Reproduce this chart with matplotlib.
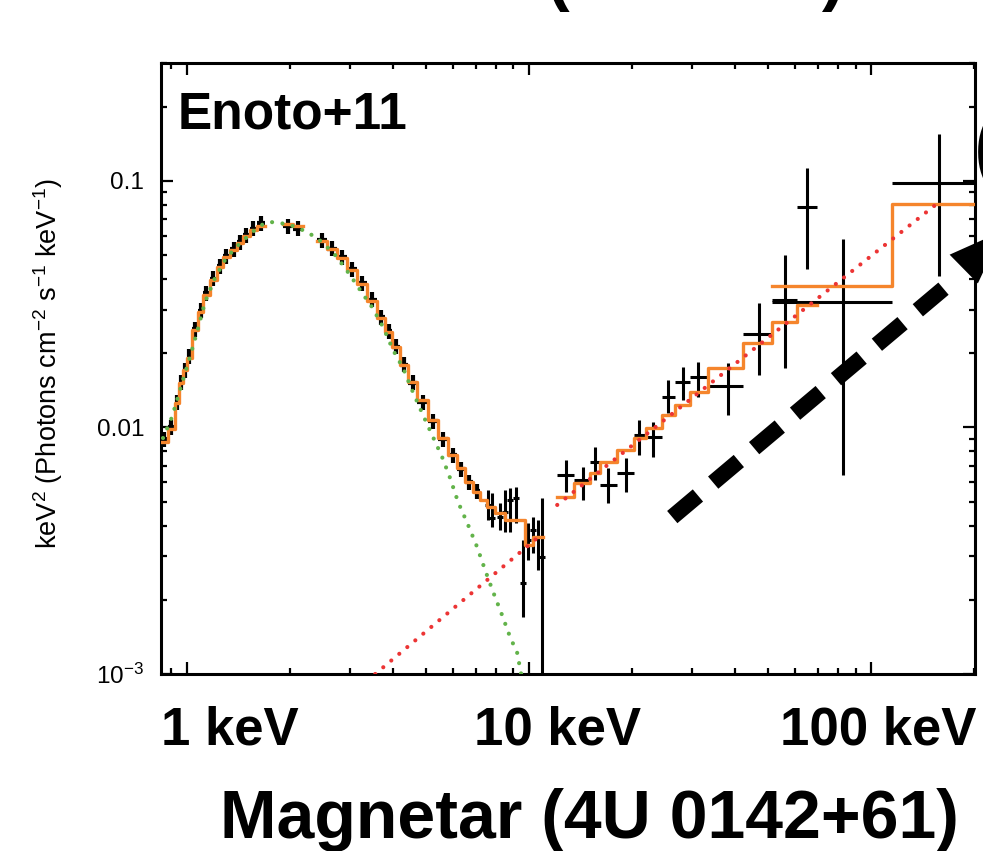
import numpy as np
import matplotlib
matplotlib.use('Agg')
import matplotlib.pyplot as plt
from matplotlib.patches import FancyArrowPatch
from matplotlib.ticker import NullFormatter, FixedLocator

nan = np.nan

# Suzaku XIS : bin edges (keV), model and data (keV^2 Photons cm^-2 s^-1 keV^-1)
xis_edges = [0.834, 0.880, 0.922, 0.948, 0.973, 1.000, 1.034, 1.077, 1.114, 1.167,
             1.224, 1.274, 1.336, 1.400, 1.458, 1.528, 1.602, 1.690, 1.909, 2.041,
             2.184, 2.400, 2.567, 2.746, 2.937, 3.142, 3.360, 3.594, 3.793, 3.975,
             4.196, 4.429, 4.704, 5.066, 5.418, 5.797, 6.158, 6.500, 6.861, 7.192,
             7.540, 7.957, 8.510, 9.734, 10.27, 10.99]
xis_model = [0.0087, 0.0099, 0.0126, 0.0151, 0.0171, 0.0191, 0.0248, 0.0294, 0.0344, 0.0396,
             0.0447, 0.0491, 0.0524, 0.0560, 0.0597, 0.0631, 0.0656, nan, 0.0668, 0.0656,
             nan, 0.0570, 0.0528, 0.0486, 0.0435, 0.0382, 0.0326, 0.0278, 0.0244, 0.0212,
             0.0179, 0.0153, 0.0129, 0.0107, 0.00906, 0.00773, 0.00684, 0.00601, 0.00547, 0.00508,
             0.00475, 0.00450, 0.00421, 0.00334, 0.00359]
xis_data = [0.0090, 0.0100, 0.0126, 0.0152, 0.0170, 0.0195, 0.0250, 0.0298, 0.0350, 0.0402,
            0.0452, 0.0496, 0.0530, 0.0566, 0.0604, 0.0640, 0.0672, nan, 0.0655, 0.0640,
            nan, 0.0575, 0.0532, 0.0490, 0.0440, 0.0385, 0.0330, 0.0280, 0.0246, 0.0213,
            0.0180, 0.0152, 0.0127, 0.0106, 0.0090, 0.0077, 0.0068, 0.0060, 0.0055]
xis_frac_err = 0.07

# XIS last points (7.5 - 11 keV)
xis_hi_e = [7.59, 7.80, 8.23, 8.51, 8.80, 9.16, 9.61, 9.93, 10.27, 10.62, 10.91]
xis_hi_f = [0.00485, 0.00429, 0.00433, 0.00454, 0.00508, 0.00517, 0.00234, 0.00349, 0.00384, 0.00359, 0.00298]
xis_hi_up = [0.00557, 0.00542, 0.00494, 0.00557, 0.00568, 0.00573, 0.00349, 0.00409, 0.00433, 0.00421, 0.00517]
xis_hi_dn = [0.00421, 0.00394, 0.00384, 0.00377, 0.00377, 0.00409, 0.00170, 0.00290, 0.00310, 0.00264, 0.00090]

# HXD-PIN
pin_edges = [12.08, 13.54, 15.08, 16.13, 18.08, 20.28, 21.99, 24.48, 26.73, 29.57,
             33.38, 42.24, 51.35, 60.76, 69.54]
pin_e = [12.83, 14.38, 15.60, 17.02, 19.21, 20.97, 23.05, 25.49, 28.20, 31.20,
         38.18, 47.05, 56.05, 65.02]
pin_f = [0.00641, 0.00612, 0.00724, 0.00584, 0.00653, 0.00932, 0.00914, 0.01328, 0.01528, 0.0160,
         0.01472, 0.02392, 0.03285, 0.0783]
pin_up = [0.00738, 0.00690, 0.00833, 0.00684, 0.00751, 0.01071, 0.01052, 0.01556, 0.01758, 0.01842,
          0.0182, 0.0319, 0.05002, 0.1127]
pin_dn = [0.00547, 0.00508, 0.00612, 0.00494, 0.00547, 0.00773, 0.00759, 0.01144, 0.0129, 0.01328,
          0.01123, 0.01631, 0.01741, 0.04387]
pin_model = [0.00522, 0.00595, 0.00653, 0.00724, 0.0081, 0.00906, 0.00994, 0.01123, 0.01232, 0.01392,
             0.01741, 0.0220, 0.02676, 0.03136]

# HXD-GSO
gso_edges = [51.35, 115.2, 250.0]
gso_e = [82.8, 158.1]
gso_f = [0.03225, 0.0979]
gso_up = [0.05808, 0.1548]
gso_dn = [0.00641, 0.0411]
gso_model = [0.03745, 0.0805]

# soft component (green dotted)
soft_e = [0.851, 0.904, 0.941, 0.973, 1.020, 1.070, 1.129, 1.207, 1.291, 1.381,
          1.497, 1.602, 1.690, 1.784, 1.960, 2.097, 2.243, 2.400, 2.532, 2.746,
          2.997, 3.250, 3.475, 3.742, 4.003, 4.281, 4.548, 4.866, 5.204, 5.567,
          5.875, 6.200, 6.632, 7.047, 7.435, 7.850, 8.339, 8.800, 9.224, 9.476]
soft_f = [0.00906, 0.01102, 0.01328, 0.01556, 0.0193, 0.02437, 0.03225, 0.04035, 0.04774, 0.05339,
          0.0592, 0.0644, 0.0675, 0.0681, 0.0668, 0.0648, 0.0620, 0.0586, 0.0550, 0.0491,
          0.0415, 0.0351, 0.03078, 0.02553, 0.0206, 0.01741, 0.01418, 0.01144, 0.00932, 0.00759,
          0.00623, 0.00498, 0.00402, 0.00327, 0.00264, 0.00215, 0.00173, 0.00141, 0.00122, 0.00100]

# hard power-law component (red dotted), XIS and HXD normalisations
hard_xis_e = [3.55, 10.91]
hard_xis_f = [0.00100, 0.00370]
hard_hxd_e = [12.08, 155.0]
hard_hxd_f = [0.00485, 0.0805]

# dashed arrow (keV, flux)
arrow_start = (26.2, 4.33e-3)
arrow_dash_end = (164.6, 0.0371)
arrow_tip = (241.6, 0.0626)

energy_labels = ['1 keV', '10 keV', '100 keV']
energy_label_pos = [1.336, 12.13, 104.5]

ytick_vals = [1e-3, 0.01, 0.1]
ytick_labels = [r'$10^{-3}$', '0.01', '0.1']

orange = '#f5852c'
green = '#62b34a'
red = '#ec3434'

plt.rcParams['font.family'] = ['Liberation Sans', 'DejaVu Sans']
plt.rcParams['mathtext.fontset'] = 'custom'
plt.rcParams['mathtext.rm'] = 'Liberation Sans'
plt.rcParams['mathtext.it'] = 'Liberation Sans:italic'
plt.rcParams['mathtext.bf'] = 'Liberation Sans:bold'


def draw_step(ax, edges, vals, **kw):
    v = np.asarray(vals, dtype=float)
    ax.step(edges, np.append(v, v[-1]), where='post', **kw)


fig = plt.figure(figsize=(9.83, 8.51), dpi=100)
ax = fig.add_axes([0.1635, 0.2080, 0.8284, 0.7176])
ax.set_xscale('log')
ax.set_yscale('log')
ax.set_xlim(0.838, 201)
ax.set_ylim(1e-3, 0.30)

# XIS data
edges = np.array(xis_edges)
lo = edges[:len(xis_data)]
hi = edges[1:len(xis_data) + 1]
fd = np.array(xis_data)
ok = ~np.isnan(fd)
xc = np.sqrt(lo * hi)[ok]
fd = fd[ok]
ax.errorbar(xc, fd, xerr=[xc - lo[ok], hi[ok] - xc],
            yerr=[fd * xis_frac_err, fd * xis_frac_err],
            fmt='none', ecolor='k', elinewidth=3.0, capsize=0, zorder=2)

e = np.array(xis_hi_e)
f = np.array(xis_hi_f)
ax.errorbar(e, f, xerr=[e * (1 - 10**-0.009), e * (10**0.009 - 1)],
            yerr=[f - np.array(xis_hi_dn), np.array(xis_hi_up) - f],
            fmt='none', ecolor='k', elinewidth=2.2, capsize=0, zorder=2)

# HXD data
pe = np.array(pin_e)
pf = np.array(pin_f)
pedges = np.array(pin_edges)
ax.errorbar(pe, pf, xerr=[pe - pedges[:-1], pedges[1:] - pe],
            yerr=[pf - np.array(pin_dn), np.array(pin_up) - pf],
            fmt='none', ecolor='k', elinewidth=2.2, capsize=0, zorder=2)
ge = np.array(gso_e)
gf = np.array(gso_f)
gedges = np.array(gso_edges)
ax.errorbar(ge, gf, xerr=[ge - gedges[:-1], gedges[1:] - ge],
            yerr=[gf - np.array(gso_dn), np.array(gso_up) - gf],
            fmt='none', ecolor='k', elinewidth=2.2, capsize=0, zorder=2)

# models
draw_step(ax, xis_edges, xis_model, color=orange, lw=2.4, zorder=3)
draw_step(ax, pin_edges, pin_model, color=orange, lw=2.4, zorder=3)
draw_step(ax, gso_edges, gso_model, color=orange, lw=2.4, zorder=3)

dots = dict(lw=3.0, ls=(0, (0.01, 2.5)), dash_capstyle='round', zorder=4)
ax.plot(soft_e, soft_f, color=green, **dots)
ax.plot(hard_xis_e, hard_xis_f, color=red, **dots)
ax.plot(hard_hxd_e, hard_hxd_f, color=red, **dots)

# dashed arrow
ax.plot([arrow_start[0], arrow_dash_end[0]], [arrow_start[1], arrow_dash_end[1]],
        color='k', lw=11.5, ls=(0, (2.1, 1.25)), dash_capstyle='butt',
        clip_on=False, zorder=5)
head = FancyArrowPatch(posA=arrow_dash_end, posB=arrow_tip, transform=ax.transData,
                       arrowstyle='simple,head_length=3.9,head_width=2.9,tail_width=0.0',
                       mutation_scale=10, lw=0, facecolor='k', edgecolor='none',
                       shrinkA=0, shrinkB=0, clip_on=False, zorder=5)
ax.add_patch(head)

# axes styling
for s in ax.spines.values():
    s.set_linewidth(2.2)
ax.tick_params(which='both', direction='in', top=True, right=True, width=1.6)
ax.tick_params(which='major', length=8.5)
ax.tick_params(which='minor', length=4.3)
ax.tick_params(axis='x', which='both', labelbottom=False)
ax.yaxis.set_major_locator(FixedLocator(ytick_vals))
ax.set_yticklabels(ytick_labels)
ax.yaxis.set_minor_formatter(NullFormatter())
ax.tick_params(axis='y', labelsize=17.5, pad=12)

ax.set_ylabel(r'keV$^2$ (Photons cm$^{-2}$ s$^{-1}$ keV$^{-1}$)', fontsize=19.5)
ax.yaxis.set_label_coords(-0.117, 0.508)

for lab, xpos in zip(energy_labels, energy_label_pos):
    ax.text(xpos, -0.1162, lab, transform=ax.get_xaxis_transform(),
            ha='center', va='baseline', fontsize=38, fontweight='bold')

ax.text(0.0212, 0.894, 'Enoto+11', transform=ax.transAxes, fontsize=37,
        fontweight='bold', ha='left', va='baseline')

fig.text(0.600, 0.0153, 'Magnetar (4U 0142+61)', ha='center', va='baseline',
         fontsize=49, fontweight='bold')

# clipped text at the top and the right edge
fig.text(0.556, 1.0024, '(', ha='left', va='baseline', fontsize=49, fontweight='bold')
fig.text(0.836, 1.0024, ')', ha='left', va='baseline', fontsize=49, fontweight='bold')
fig.text(0.991, 0.821, '(', ha='left', va='center', fontsize=60, fontweight='bold')

fig.savefig('out.png', dpi=100)
